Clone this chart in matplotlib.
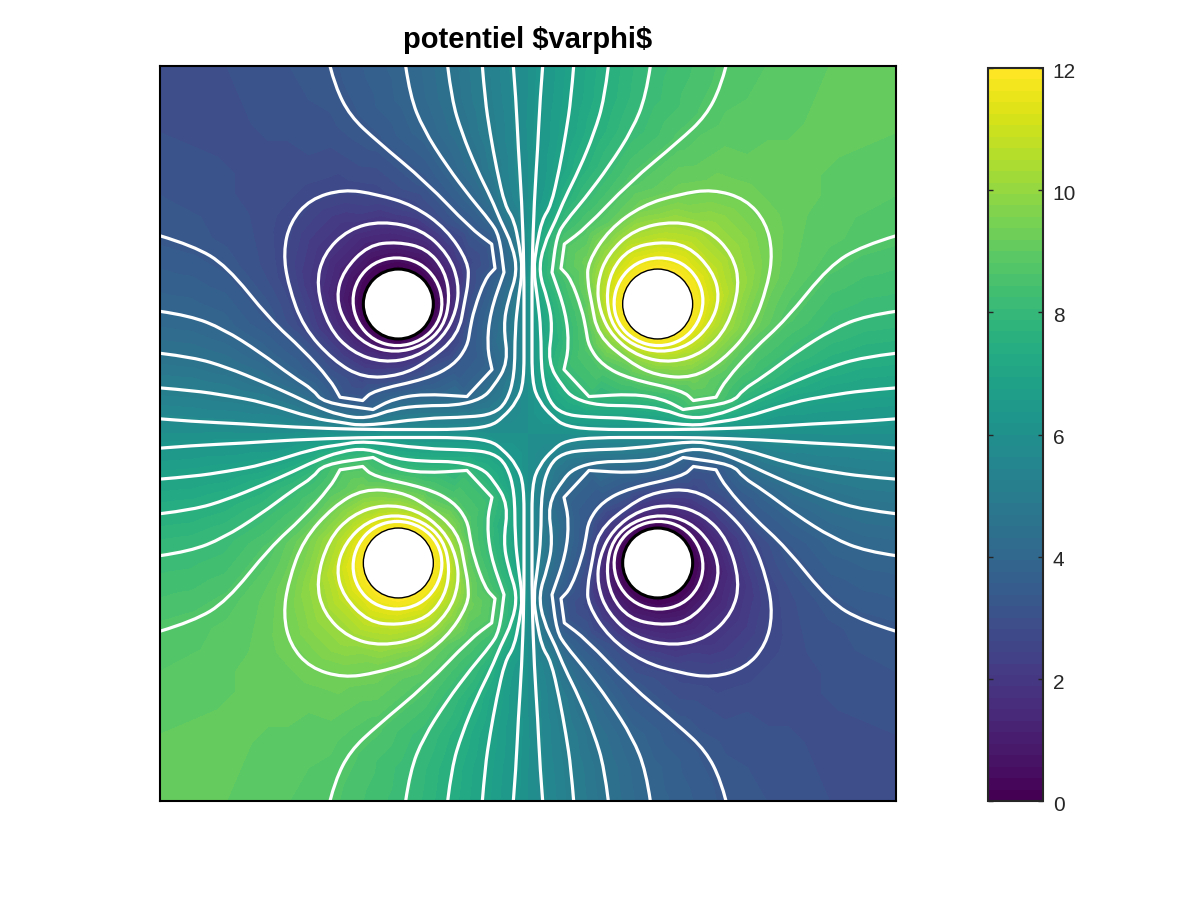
"""
Potential between four holes, top-left quadrant read off the picture
Other three quadrants are the same shape, right and bottom mirrored around 6
"""

import numpy as np
import matplotlib
matplotlib.use('Agg')
import matplotlib.pyplot as plt
import matplotlib.tri as mtri
from matplotlib.patches import Circle, PathPatch
from matplotlib.path import Path
from matplotlib.cm import ScalarMappable
from matplotlib.colors import Normalize
from matplotlib.transforms import ScaledTranslation

plt.rcParams['font.family'] = ['Liberation Sans', 'DejaVu Sans']

# top-left quadrant, x and y run 0..1104 from the corner to the middle
# a point written twice is a sharp corner of the line
line_57 = [(1060, 0), (1068, 100), (1075, 250), (1085, 400), (1092, 600), (1092, 800), (1092, 950), (1071, 1008),
           (1029, 1056), (990, 1083), (900, 1092), (750, 1092), (600, 1092), (400, 1085), (250, 1075), (100, 1068), (0, 1060)]
line_51 = [(967, 0), (975, 100), (990, 200), (1010, 310), (1035, 420), (1062, 462), (1078, 540), (1088, 612),
           (1075, 700), (1065, 792), (1064, 930), (1040, 1010), (1000, 1045), (930, 1055), (790, 1058), (612, 1082),
           (540, 1070), (462, 1059), (310, 1010), (200, 990), (100, 975), (0, 967)]
line_45 = [(863, 0), (875, 100), (905, 200), (950, 310), (995, 400), (1020, 462), (1058, 540), (1072, 620),
           (1045, 700), (1030, 780), (1045, 890), (1000, 965), (965, 1000), (890, 1020), (790, 1020), (700, 1030),
           (620, 1060), (540, 1050), (462, 1020), (400, 990), (310, 950), (200, 905), (100, 875), (0, 863)]
line_39 = [(737, 0), (750, 90), (790, 190), (860, 300), (935, 400), (990, 465), (1018, 510), (1032, 620), (1032, 620),
           (990, 741), (981, 843), (996, 912), (996, 912), (921, 993), (921, 993), (790, 985), (700, 1000),
           (639, 1032), (639, 1032), (489, 1011), (459, 972), (400, 935), (300, 860), (190, 790), (90, 750), (0, 737)]
line_33 = [(510, 0), (525, 60), (570, 150), (650, 225), (800, 350), (930, 486), (995, 535), (995, 535), (1005, 608), (1005, 608),
           (975, 640), (942, 732), (930, 790), (922, 843), (880, 900), (800, 940), (640, 975), (608, 1005), (608, 1005),
           (540, 995), (540, 995), (510, 942), (429, 852), (330, 762), (200, 600), (100, 540), (0, 510)]
ring_27 = [(370, 560), (390, 470), (450, 400), (550, 370), (650, 385), (760, 418), (860, 490), (925, 590),
           (925, 650), (915, 702), (895, 810), (800, 890), (720, 930), (610, 938), (520, 885), (430, 785), (385, 660), (370, 560)]
ring_21 = [(468, 660), (490, 565), (565, 490), (665, 465), (785, 490), (865, 565), (897, 650), (890, 735),
           (850, 815), (770, 875), (670, 892), (575, 860), (505, 785), (468, 660)]
ring_15 = [(528, 695), (550, 615), (625, 538), (712, 528), (800, 548), (855, 615), (870, 700), (850, 785),
           (790, 840), (705, 862), (620, 840), (555, 775), (528, 695)]
ring_09 = [(575, 705), (592, 640), (640, 590), (710, 572), (780, 590), (830, 640), (850, 708), (835, 775),
           (785, 825), (712, 845), (640, 825), (592, 772), (575, 705)]

contours = [line_57, line_51, line_45, line_39, line_33, ring_27, ring_21, ring_15, ring_09]
contour_values = [5.7, 5.1, 4.5, 3.9, 3.3, 2.7, 1.9, 1.2, 0.55]

# spots away from the lines where the colour was read directly
spot_points = [(0, 0), (200, 0), (0, 200), (400, 0), (0, 400), (200, 200), (350, 150), (150, 350), (300, 300),
               (500, 200), (200, 500), (420, 300), (300, 420), (600, 300), (300, 600), (470, 860), (860, 470),
               (1104, 0), (1104, 300), (1104, 600), (1104, 800), (1104, 1000), (1104, 1104),
               (0, 1104), (300, 1104), (600, 1104), (800, 1104), (1000, 1104)]
spot_values = [2.95, 3.0, 3.0, 3.2, 3.2, 2.95, 3.05, 3.05, 2.95,
               3.1, 3.1, 2.95, 2.95, 3.0, 3.0, 3.0, 3.0,
               6, 6, 6, 6, 6, 6,
               6, 6, 6, 6, 6]

# just outside the hole edge
hole_rim = [(610, 715), (625, 662), (662, 625), (715, 610), (768, 625), (805, 662), (820, 715), (805, 768),
            (768, 805), (715, 820), (662, 805), (625, 768)]
hole_rim_values = [0.1, 0.1, 0.05, 0.05, 0.1, 0.1, 0.1, 0.1, 0.1, 0.1, 0.1, 0.1]

hole_center = (715, 715)
hole_radius = 105
size = 2208

cbar_ticks = [0, 2, 4, 6, 8, 10, 12]


def smooth_path(xs, ys):
    # quadratic curves with the read points as control points, so the lines are not polygons
    p = np.column_stack([xs, ys])
    if np.allclose(p[0], p[-1]):
        p = p[:-1]
        mid = (p + np.roll(p, -1, axis=0)) / 2
        verts = [mid[-1]]
        codes = [Path.MOVETO]
        for i in range(len(p)):
            verts += [p[i], mid[i]]
            codes += [Path.CURVE3, Path.CURVE3]
        return Path(verts, codes)
    mid = (p[:-1] + p[1:]) / 2
    verts = [p[0]]
    codes = [Path.MOVETO]
    for i in range(1, len(p) - 1):
        verts += [p[i], mid[i] if i < len(p) - 2 else p[-1]]
        codes += [Path.CURVE3, Path.CURVE3]
    return Path(verts, codes)


# collect everything for the colour field
pts = []
vals = []
for line, level in zip(contours, contour_values):
    for p in line:
        pts.append(p)
        vals.append(level)
pts += spot_points
vals += spot_values
pts += hole_rim
vals += hole_rim_values
pts = np.array(pts, dtype=float)
vals = np.array(vals, dtype=float)

# mirror the quadrant, going over the middle line flips the value around 6
all_x = np.concatenate([pts[:, 0], size - pts[:, 0], pts[:, 0], size - pts[:, 0]])
all_y = np.concatenate([pts[:, 1], pts[:, 1], size - pts[:, 1], size - pts[:, 1]])
all_v = np.concatenate([vals, 12 - vals, 12 - vals, vals])
_, keep = np.unique(np.round(np.column_stack([all_x, all_y]), 3), axis=0, return_index=True)

fig = plt.figure(figsize=(12, 9), dpi=100)
ax = fig.add_axes([160 / 1200, 1 - 801 / 900, 736 / 1200, 735 / 900])

cmap = plt.get_cmap('viridis', 64)
tri = mtri.Triangulation(all_x[keep], all_y[keep])
ax.tricontourf(tri, all_v[keep], levels=np.linspace(0, 12, 65), cmap=cmap, vmin=0, vmax=12, antialiased=False)

for line in contours:
    line = np.array(line, dtype=float)
    for lx, ly in [(line[:, 0], line[:, 1]), (size - line[:, 0], line[:, 1]),
                   (line[:, 0], size - line[:, 1]), (size - line[:, 0], size - line[:, 1])]:
        ax.add_patch(PathPatch(smooth_path(lx, ly), facecolor='none', edgecolor='white', lw=2.3,
                               joinstyle='round', zorder=3))

# holes, the two low ones have a heavier dark edge
for cx, cy, edge in [(hole_center[0], hole_center[1], 2.2), (size - hole_center[0], hole_center[1], 1.0),
                     (hole_center[0], size - hole_center[1], 1.0), (size - hole_center[0], size - hole_center[1], 2.2)]:
    ax.add_patch(Circle((cx, cy), hole_radius, facecolor='white', edgecolor='black', lw=edge, zorder=4))

ax.set_xlim(0, size)
ax.set_ylim(size, 0)
ax.set_xticks([])
ax.set_yticks([])
for spine in ax.spines.values():
    spine.set_linewidth(1.5)
    spine.set_color('black')
    spine.set_zorder(5)

cax = fig.add_axes([988 / 1200, 1 - 801 / 900, 55 / 1200, 733 / 900])
cbar = fig.colorbar(ScalarMappable(norm=Normalize(0, 12), cmap=cmap), cax=cax)
cbar.set_ticks(cbar_ticks)
cbar.ax.tick_params(direction='in', length=3.5, width=1, color='#262626', labelcolor='#262626',
                    labelsize=15, pad=7, left=True, right=True)
cbar.outline.set_linewidth(1.5)
cbar.outline.set_edgecolor('#262626')
# tick labels sit a little under their ticks in the original
for label in cbar.ax.get_yticklabels():
    label.set_transform(label.get_transform() + ScaledTranslation(0, -1.6 / 72, fig.dpi_scale_trans))

fig.text(528 / 1200, 1 - 40 / 900, r'potentiel \$varphi\$', ha='center', va='center',
         fontsize=21, fontweight='bold', color='black')

plt.savefig('out.png', dpi=100)
